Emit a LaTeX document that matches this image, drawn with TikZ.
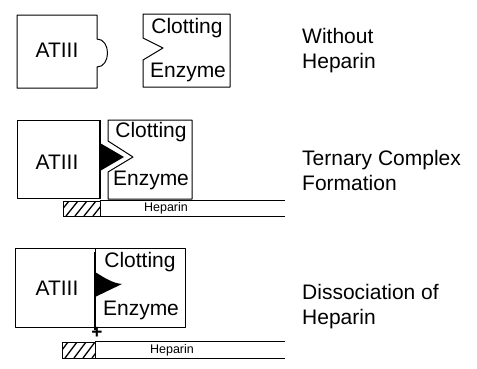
\documentclass[tikz,border=0pt]{standalone}
\usepackage{fontspec}
\setmainfont{Liberation Sans}
\begin{document}
\begin{tikzpicture}[x=1pt,y=-1pt,
  shapeline/.style={draw=black,line width=1pt,line join=round},
  boxtext/.style={inner sep=0pt,font=\fontsize{21}{25}\selectfont},
  sidetext/.style={inner sep=0pt,anchor=west,align=left,font=\fontsize{21}{25}\selectfont},
  heptext/.style={inner sep=0pt,font=\fontsize{12.5}{14}\selectfont},
  hatchline/.style={draw=black,line width=1.3pt}]
\useasboundingbox (0,0) rectangle (477,368);

% ---------- Panel 1: without heparin ----------
\draw[shapeline] (17,15) -- (97,15) -- (97,39)
  .. controls (111,39) and (111,67) .. (97,67) -- (97,88) -- (17,88) -- cycle;
\draw[shapeline] (143,14) -- (230,14) -- (230,87) -- (143,87) -- (143,60)
  -- (163,48) -- (143,38) -- cycle;
\node[boxtext] (at1) at (57,50) {ATIII};
\node[boxtext] (cl1) at (187,28) {Clotting};
\node[boxtext] (en1) at (188,72) {Enzyme};
\node[sidetext] (lab1) at (302,51) {Without\\Heparin};

% ---------- Panel 2: ternary complex ----------
\draw[shapeline] (17,120) -- (100,120) -- (100,198) -- (17,198) -- cycle;
\draw[line width=1.8pt] (100,120) -- (100,198);
\fill[black] (100,143) -- (124,157) -- (100,171) -- cycle;
\draw[shapeline] (108,141) -- (108,120) -- (192,120) -- (192,199) -- (108,199)
  -- (108,172) -- (133,157) -- cycle;
\node[boxtext] (at2) at (57,162) {ATIII};
\node[boxtext] (cl2) at (151,132) {Clotting};
\node[boxtext] (en2) at (151,180) {Enzyme};
% heparin strip
\draw[shapeline] (100,200) -- (285,200);
\draw[shapeline] (63,216) -- (285,216);
\draw[shapeline] (63,201) rectangle (100,216);
\begin{scope}
  \clip (63,201) rectangle (100,216);
  \foreach \x in {57,66,75,84,93,102} \draw[hatchline] (\x,216) -- (\x+12,201);
\end{scope}
\node[heptext] (hp2) at (166,208) {Heparin};
\node[sidetext] (lab2) at (302,170) {Ternary Complex\\Formation};

% ---------- Panel 3: dissociation ----------
\draw[shapeline] (15,248) rectangle (95,327);
\draw[shapeline] (95,248) rectangle (185,327);
\draw[line width=2.6pt] (95,252) -- (95,330);
\fill[black] (95,272) .. controls (105,278) and (112,283) .. (122,284)
  -- (95,297) -- cycle;
\node[boxtext] (at3) at (57,288) {ATIII};
\node[boxtext] (cl3) at (140,262) {Clotting};
\node[boxtext] (en3) at (141,310) {Enzyme};
\node[inner sep=0pt,font=\fontsize{19}{19}\selectfont\bfseries] (plus) at (97,333) {+};
% heparin strip
\draw[shapeline] (95,341) -- (285,341);
\draw[shapeline] (62,358) -- (285,358);
\draw[shapeline] (62,342) rectangle (95,358);
\begin{scope}
  \clip (62,342) rectangle (95,358);
  \foreach \x in {56,65,74,83,92} \draw[hatchline] (\x,358) -- (\x+12,342);
\end{scope}
\node[heptext] (hp3) at (172,350) {Heparin};
\node[sidetext] (lab3) at (302,307) {Dissociation of\\Heparin};
\end{tikzpicture}
\end{document}
